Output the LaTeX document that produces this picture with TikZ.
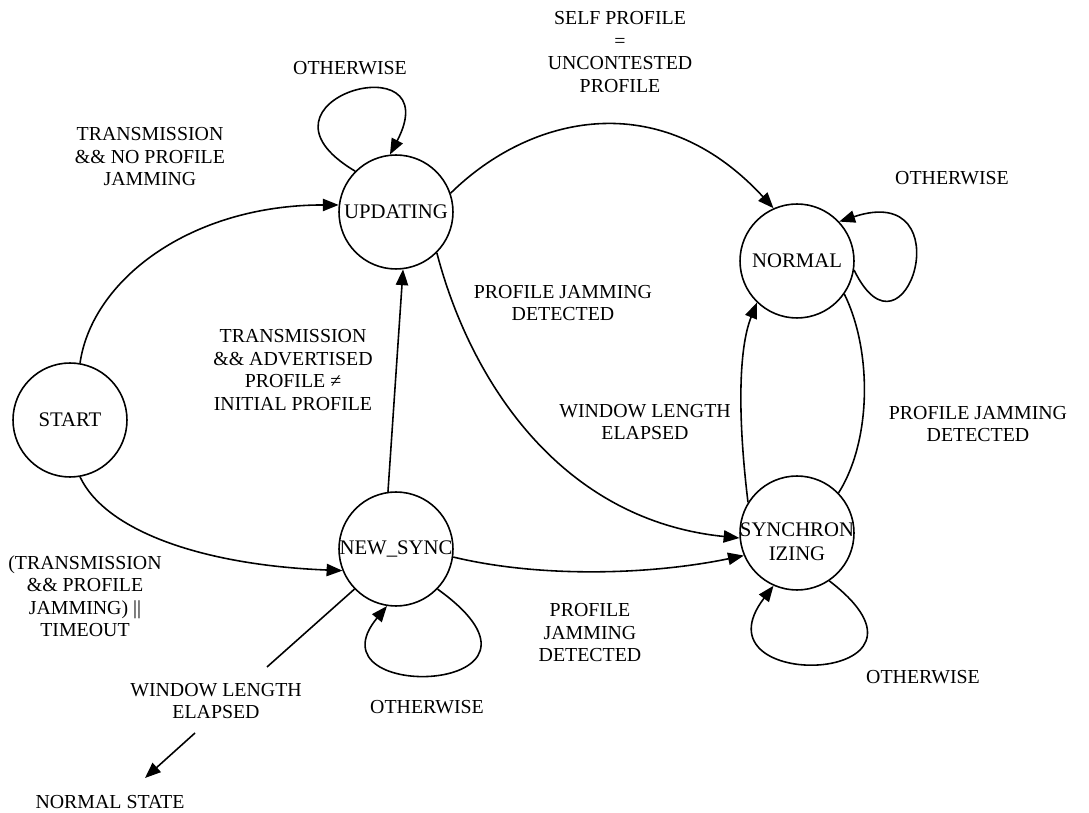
\documentclass[tikz,border=0pt]{standalone}
\usepackage{fontspec}
\setmainfont{Liberation Serif}
\usetikzlibrary{arrows.meta}
\newcommand\edgefont{\fontsize{11.3pt}{12.8pt}\selectfont}
\newcommand\statefont{\fontsize{11.8pt}{13.4pt}\selectfont}
\begin{document}
\begin{tikzpicture}[x=0.02cm,y=-0.02cm,
  state/.style={draw, circle, line width=0.9pt, minimum size=2.28cm, inner sep=0pt, font=\statefont},
  tr/.style={line width=0.9pt, -{Triangle[length=9pt,width=7pt]}},
  plain/.style={line width=0.9pt},
  cond/.style={align=center, font=\edgefont, inner sep=1pt}]
\useasboundingbox (0,0) rectangle (1089,813);

% states
\node[state] (start) at (70,420) {START};
\node[state] (upd) at (396,212) {UPDATING};
\node[state] (norm) at (797,261) {NORMAL};
\node[state] (nsync) at (396,549) {NEW\_SYNC};
\node[state] (sync) at (797,533) {};
\node[align=center, font=\statefont, inner sep=0pt] (synctext) at (797,542) {SYNCHRON\\IZING};

% transition conditions
\node[cond] (c1) at (150,157) {TRANSMISSION\\\&\& NO PROFILE\\JAMMING};
\node[cond] (c2) at (350,68) {OTHERWISE};
\node[cond] (c3) at (620,52) {SELF PROFILE\\=\\UNCONTESTED\\PROFILE};
\node[cond] (c4) at (952,178) {OTHERWISE};
\node[cond] (c5) at (563,303) {PROFILE JAMMING\\DETECTED};
\node[cond] (c6) at (293,370) {TRANSMISSION\\\&\& ADVERTISED\\PROFILE ≠\\INITIAL PROFILE};
\node[cond] (c7) at (645,422) {WINDOW LENGTH\\ELAPSED};
\node[cond] (c8) at (978,424) {PROFILE JAMMING\\DETECTED};
\node[cond] (c9) at (85,596) {(TRANSMISSION\\\&\& PROFILE\\JAMMING) ||\\TIMEOUT};
\node[cond] (c10) at (590,633) {PROFILE\\JAMMING\\DETECTED};
\node[cond] (c11) at (427,707) {OTHERWISE};
\node[cond] (c12) at (923,677) {OTHERWISE};
\node[cond] (c13) at (216,701) {WINDOW LENGTH\\ELAPSED};
\node[cond] (ns) at (110,802) {NORMAL STATE};

% exit towards the normal state
\coordinate (w1) at (267,667);
\coordinate (w2) at (195,733);
\coordinate (w3) at (145,778);

% transitions
\draw[tr] (start.80) .. controls (92,280) and (190,205) .. (upd.173);
\draw[tr] (start.-80) .. controls (105,530) and (200,565) .. (nsync.-158);
\draw[tr] (upd.135) .. controls (235,100) and (450,40) .. (upd.96);
\draw[tr] (upd.19) .. controls (530,115) and (660,85) .. (norm.114);
\draw[tr] (upd.-45) .. controls (470,380) and (560,520) .. (sync.185);
\draw[tr] (nsync.98) -- (upd.-83);
\draw[tr] (nsync.-8) .. controls (540,578) and (650,575) .. (sync.203);
\draw[tr] (nsync.-44) .. controls (585,695) and (305,705) .. (nsync.-99);
\draw[plain] (nsync.-136) -- (w1);
\draw[tr] (w2) -- (w3);
\draw[tr] (sync.148) .. controls (738,420) and (738,350) .. (norm.-134);
\draw[plain] (norm.-35) .. controls (872,350) and (872,440) .. (sync.44);
\draw[tr] (norm.-9) .. controls (905,375) and (965,180) .. (norm.43);
\draw[tr] (sync.-56) .. controls (965,685) and (690,695) .. (sync.-114);
\end{tikzpicture}
\end{document}
